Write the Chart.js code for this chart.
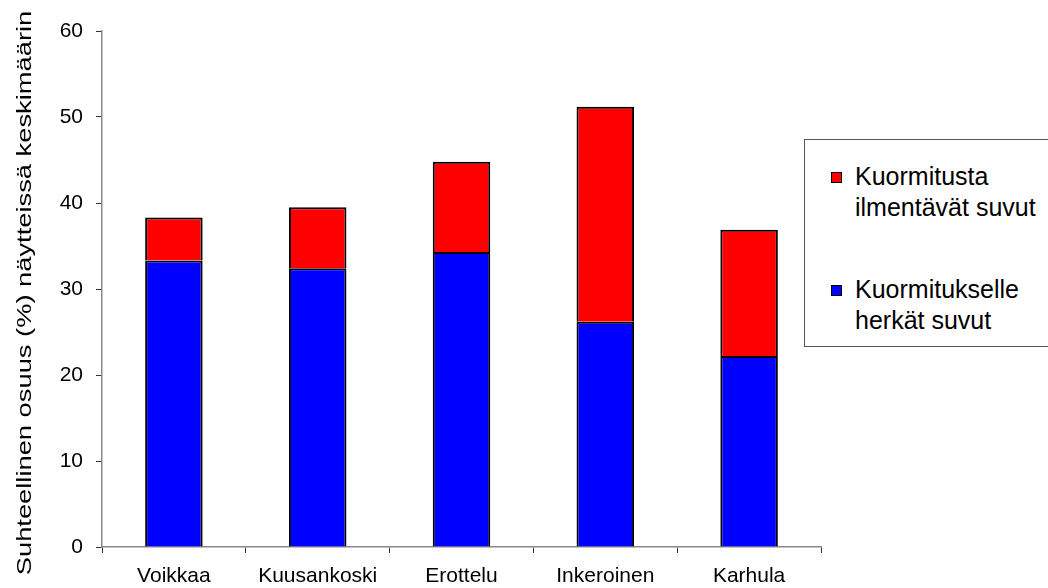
<!DOCTYPE html>
<html lang="fi">
<head>
<meta charset="utf-8">
<title>Suhteellinen osuus näytteissä</title>
<script src="https://cdn.jsdelivr.net/npm/chart.js@4/dist/chart.umd.min.js"></script>
<style>
  html, body { margin: 0; padding: 0; background: #fff; }
  #wrap { position: relative; width: 1048px; height: 588px; overflow: hidden; }
  #chart { position: absolute; left: 0; top: 0; }
  #legend {
    position: absolute; left: 804px; top: 139px; width: 260px; height: 208px;
    border: 1.5px solid #555; box-sizing: border-box; background: #fff;
    font-family: "Liberation Sans", Arial, sans-serif; font-size: 25px; color: #000;
  }
  .item { position: absolute; left: 50px; line-height: 31px; white-space: nowrap; }
  .swatch { position: absolute; left: -24px; top: 11px; width: 9px; height: 9px; border: 1.5px solid #000; }
</style>
</head>
<body>
<div id="wrap">
  <canvas id="chart" width="1048" height="588"></canvas>
  <div id="legend"></div>
</div>
<script>
// Sampling sites along the river
const sites = ['Voikkaa', 'Kuusankoski', 'Erottelu', 'Inkeroinen', 'Karhula'];

// Share (%) of sensitive genera (bottom segment)
const sensitiveGenera = [33.3, 32.4, 34.3, 26.2, 22.2];
// Share (%) of load-indicating genera (top segment)
const indicatorGenera = [5.0, 7.1, 10.5, 25.0, 14.7];

const seriesLabels = {
  sensitive: ['Kuormitukselle', 'herkät suvut'],
  indicator: ['Kuormitusta', 'ilmentävät suvut']
};

const yTicks = [0, 10, 20, 30, 40, 50, 60];
const yTitle = 'Suhteellinen osuus (%) näytteissä keskimäärin';

const FONT = '"Liberation Sans", Arial, sans-serif';

// Rotated, slightly stretched y-axis title
const yTitlePlugin = {
  id: 'yTitle',
  afterDraw(chart) {
    const ctx = chart.ctx;
    ctx.save();
    ctx.translate(25, 293);
    ctx.rotate(-Math.PI / 2);
    ctx.scale(1.3, 1);
    ctx.font = '21px ' + FONT;
    ctx.fillStyle = '#000';
    ctx.textAlign = 'center';
    ctx.textBaseline = 'middle';
    ctx.fillText(yTitle, 0, 0);
    ctx.restore();
  }
};

const barBorder = { top: 2, left: 2, right: 2, bottom: 0 };

const chart = new Chart(document.getElementById('chart'), {
  type: 'bar',
  data: {
    labels: sites,
    datasets: [
      {
        label: seriesLabels.sensitive.join(' '),
        data: sensitiveGenera,
        backgroundColor: '#0000FF',
        borderColor: '#000',
        borderWidth: barBorder,
        borderSkipped: false
      },
      {
        label: seriesLabels.indicator.join(' '),
        data: indicatorGenera,
        backgroundColor: '#FF0000',
        borderColor: '#000',
        borderWidth: barBorder,
        borderSkipped: false
      }
    ]
  },
  options: {
    responsive: false,
    animation: false,
    devicePixelRatio: 1,
    layout: { padding: { top: 31, right: 227, bottom: 0, left: 0 } },
    plugins: { legend: { display: false }, tooltip: { enabled: false } },
    datasets: { bar: { barPercentage: 0.4, categoryPercentage: 1.0 } },
    scales: {
      x: {
        stacked: true,
        grid: { display: true, drawOnChartArea: false, offset: true, tickLength: 6, color: '#333', lineWidth: 1 },
        border: { display: true, color: '#888', width: 1.5 },
        ticks: { font: { family: FONT, size: 21 }, color: '#000', padding: 11, maxRotation: 0, autoSkip: false },
        afterFit(scale) { scale.height = 41; }
      },
      y: {
        stacked: true,
        min: yTicks[0],
        max: yTicks[yTicks.length - 1],
        afterBuildTicks(scale) { scale.ticks = yTicks.map(v => ({ value: v })); },
        grid: { display: true, drawOnChartArea: false, tickLength: 6, color: '#333', lineWidth: 1 },
        border: { display: true, color: '#888', width: 1.5 },
        ticks: { font: { family: FONT, size: 21 }, color: '#000', padding: 13 },
        afterFit(scale) { scale.width = 102; }
      }
    }
  },
  plugins: [yTitlePlugin]
});

// Legend box, top series first
const legendEl = document.getElementById('legend');
const legendOrder = [
  { lines: seriesLabels.indicator, color: chart.data.datasets[1].backgroundColor, top: 21 },
  { lines: seriesLabels.sensitive, color: chart.data.datasets[0].backgroundColor, top: 134 }
];
legendOrder.forEach(entry => {
  const item = document.createElement('div');
  item.className = 'item';
  item.style.top = entry.top + 'px';
  const sw = document.createElement('span');
  sw.className = 'swatch';
  sw.style.background = entry.color;
  item.appendChild(sw);
  entry.lines.forEach((line, i) => {
    if (i > 0) item.appendChild(document.createElement('br'));
    item.appendChild(document.createTextNode(line));
  });
  legendEl.appendChild(item);
});
</script>
</body>
</html>
